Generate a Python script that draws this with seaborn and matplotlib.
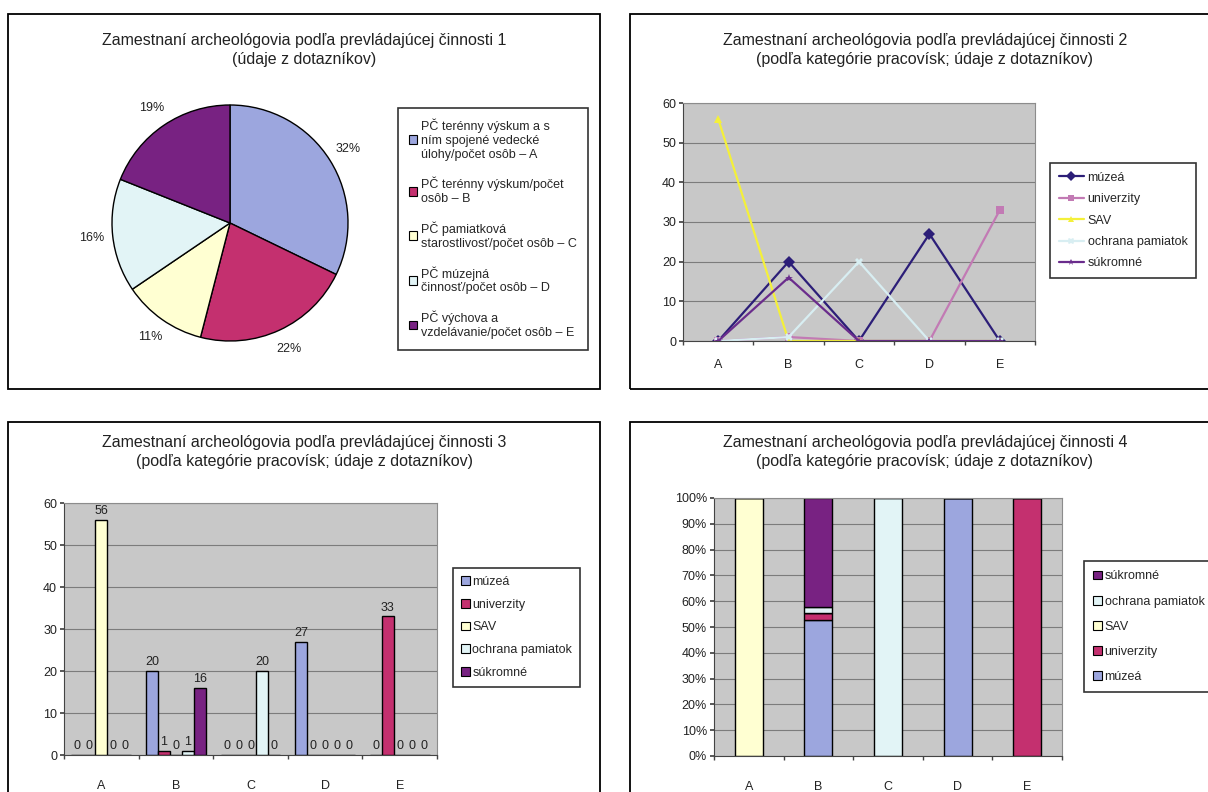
import pandas as pd
import seaborn as sns
import matplotlib.pyplot as plt
from matplotlib.patches import Rectangle, Patch
from matplotlib.lines import Line2D
from matplotlib.ticker import PercentFormatter, MultipleLocator

sns.set_theme(style="white")
plt.rcParams['font.family'] = ['Liberation Sans', 'DejaVu Sans']

W, H = 1208, 792

# data
kategorie = ["A", "B", "C", "D", "E"]
pracoviska = ["múzeá", "univerzity", "SAV", "ochrana pamiatok", "súkromné"]
muzea = [0, 20, 0, 27, 0]
univerzity = [0, 1, 0, 0, 33]
sav = [56, 0, 0, 0, 0]
ochrana = [0, 1, 20, 0, 0]
sukromne = [0, 16, 0, 0, 0]

cinnosti = ["PČ terénny výskum a s\nním spojené vedecké\núlohy/počet osôb – A",
            "PČ terénny výskum/počet\nosôb – B",
            "PČ pamiatková\nstarostlivosť/počet osôb – C",
            "PČ múzejná\nčinnosť/počet osôb – D",
            "PČ výchova a\nvzdelávanie/počet osôb – E"]

nadpis = "Zamestnaní archeológovia podľa prevládajúcej činnosti"
podnadpis_1 = "(údaje z dotazníkov)"
podnadpis = "(podľa kategórie pracovísk; údaje z dotazníkov)"

farby = {"múzeá": "#9ca6de", "univerzity": "#c4306f", "SAV": "#ffffd2",
         "ochrana pamiatok": "#e2f4f6", "súkromné": "#782282"}
ciary = {"múzeá": "#2c1e78", "univerzity": "#c27ab4", "SAV": "#f4f03a",
         "ochrana pamiatok": "#d8eef2", "súkromné": "#6a2c8c"}
znacky = ["D", "s", "^", "X", "*"]

df = pd.DataFrame({"kategória": kategorie, "múzeá": muzea, "univerzity": univerzity,
                   "SAV": sav, "ochrana pamiatok": ochrana, "súkromné": sukromne})
dlhe = df.melt(id_vars="kategória", var_name="pracovisko", value_name="počet")
spolu = df.set_index("kategória").sum(axis=1)

FS = 9


def box(x0, y0, x1, y1):
    return [x0 / W, 1 - y1 / H, (x1 - x0) / W, (y1 - y0) / H]


def style_axes(ax, pad):
    ax.set_facecolor("#c8c8c8")
    ax.grid(axis="y", color="#7c7c7c", lw=0.8)
    ax.set_axisbelow(True)
    for s in ax.spines.values():
        s.set_color("#8c8c8c")
        s.set_linewidth(0.8)
    ax.spines["left"].set_color("#444")
    ax.spines["bottom"].set_color("#444")
    ax.set_xlim(-0.5, 4.5)
    ax.set_xticks([i + 0.5 for i in range(-1, 5)], minor=True)
    ax.tick_params(axis="x", which="major", length=0, pad=pad, labelsize=FS, labelcolor="#222")
    ax.tick_params(axis="x", which="minor", length=3, color="#444", bottom=True)
    ax.tick_params(axis="y", length=3, color="#444", left=True, labelsize=FS, labelcolor="#222", pad=2)
    ax.set_xlabel("")
    ax.set_ylabel("")


def frame(leg):
    leg.get_frame().set_edgecolor("black")
    leg.get_frame().set_linewidth(1.2)


fig = plt.figure(figsize=(W / 100, H / 100), dpi=100)
for r in [(8, 14, 600, 389), (630, 14, 1220, 389), (8, 422, 600, 800), (630, 422, 1220, 800)]:
    fig.add_artist(Rectangle((r[0] / W, 1 - r[3] / H), (r[2] - r[0]) / W, (r[3] - r[1]) / H,
                             transform=fig.transFigure, fill=False, ec="black", lw=1.3))

tkw = dict(ha="center", va="top", fontsize=11.5, color="#222", linespacing=1.35)
fig.text(304 / W, 1 - 33 / H, f"{nadpis} 1\n{podnadpis_1}", **tkw)
fig.text(925 / W, 1 - 33 / H, f"{nadpis} 2\n{podnadpis}", **tkw)
fig.text(304 / W, 1 - 435 / H, f"{nadpis} 3\n{podnadpis}", **tkw)
fig.text(925 / W, 1 - 435 / H, f"{nadpis} 4\n{podnadpis}", **tkw)

# 1 - pie
ax1 = fig.add_axes(box(112, 105, 348, 341))
pie_farby = [farby[p] for p in pracoviska]
ax1.pie(spolu.values, colors=pie_farby, startangle=90, counterclock=False,
        autopct="%1.0f%%", pctdistance=1.18, wedgeprops=dict(edgecolor="black", linewidth=1),
        textprops=dict(fontsize=FS, color="#222"))
ax1.set_xlim(-1, 1)
ax1.set_ylim(-1, 1)
h1 = [Patch(facecolor=c, edgecolor="black", lw=0.8) for c in pie_farby]
leg1 = ax1.legend(h1, cinnosti, loc="upper left", bbox_to_anchor=(398 / W, 1 - 108 / H),
                  bbox_transform=fig.transFigure, fontsize=FS, frameon=True, fancybox=False,
                  handlelength=0.7, handleheight=0.7, handletextpad=0.3, labelspacing=1.3,
                  borderpad=0.85, borderaxespad=0)
frame(leg1)

# 2 - lines
ax2 = fig.add_axes(box(683, 103, 1035, 341))
sns.lineplot(data=dlhe, x="kategória", y="počet", hue="pracovisko", style="pracovisko",
             hue_order=pracoviska, style_order=pracoviska, palette=ciary, markers=znacky,
             dashes=False, linewidth=1.6, markersize=6, markeredgewidth=0, legend=False, ax=ax2)
ax2.set_ylim(0, 60)
ax2.yaxis.set_major_locator(MultipleLocator(10))
style_axes(ax2, 13)
h2 = [Line2D([0], [0], color=ciary[p], marker=m, markersize=5, lw=1.6, markeredgewidth=0)
      for p, m in zip(pracoviska, znacky)]
leg2 = ax2.legend(h2, pracoviska, loc="upper left", bbox_to_anchor=(1050 / W, 1 - 163 / H),
                  bbox_transform=fig.transFigure, fontsize=FS, frameon=True, fancybox=False,
                  handlelength=2.0, handletextpad=0.3, labelspacing=0.75, borderpad=0.7, borderaxespad=0)
frame(leg2)

# 3 - grouped bars
ax3 = fig.add_axes(box(64, 503, 437, 755))
sns.barplot(data=dlhe, x="kategória", y="počet", hue="pracovisko", hue_order=pracoviska,
            palette=farby, saturation=1, edgecolor="black", linewidth=1, width=0.8,
            errorbar=None, legend=False, ax=ax3)
for c in ax3.containers:
    ax3.bar_label(c, fontsize=FS, padding=2, color="#222")
ax3.set_ylim(0, 60)
ax3.yaxis.set_major_locator(MultipleLocator(10))
style_axes(ax3, 18)
h3 = [Patch(facecolor=farby[p], edgecolor="black", lw=0.8) for p in pracoviska]
leg3 = ax3.legend(h3, pracoviska, loc="upper left", bbox_to_anchor=(453 / W, 1 - 568 / H),
                  bbox_transform=fig.transFigure, fontsize=FS, frameon=True, fancybox=False,
                  handlelength=0.7, handleheight=0.7, handletextpad=0.2, labelspacing=0.85,
                  borderpad=0.65, borderaxespad=0)
frame(leg3)

# 4 - 100 % stacked
ax4 = fig.add_axes(box(714, 498, 1062, 756))
sns.histplot(data=dlhe, x="kategória", weights="počet", hue="pracovisko",
             hue_order=pracoviska[::-1], multiple="fill", discrete=True, shrink=0.4,
             palette=farby, edgecolor="black", linewidth=1, alpha=1, legend=False, ax=ax4)
ax4.set_ylim(0, 1)
ax4.yaxis.set_major_locator(MultipleLocator(0.1))
ax4.yaxis.set_major_formatter(PercentFormatter(1.0, decimals=0))
style_axes(ax4, 18)
h4 = [Patch(facecolor=farby[p], edgecolor="black", lw=0.8) for p in pracoviska[::-1]]
leg4 = ax4.legend(h4, pracoviska[::-1], loc="upper left", bbox_to_anchor=(1084 / W, 1 - 561 / H),
                  bbox_transform=fig.transFigure, fontsize=FS, frameon=True, fancybox=False,
                  handlelength=0.7, handleheight=0.7, handletextpad=0.2, labelspacing=1.05,
                  borderpad=0.75, borderaxespad=0)
frame(leg4)

fig.savefig("out.png", dpi=100)
